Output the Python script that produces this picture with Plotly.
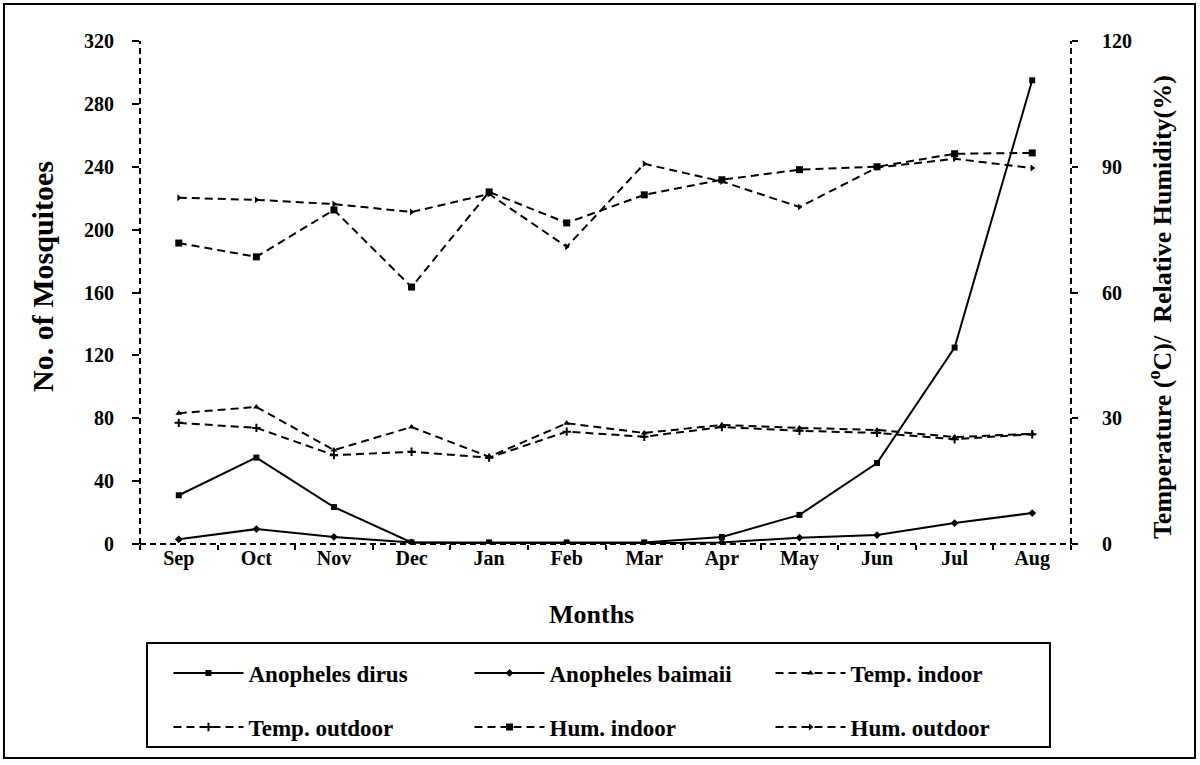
import plotly.graph_objects as go

months = ["Sep", "Oct", "Nov", "Dec", "Jan", "Feb", "Mar", "Apr", "May", "Jun", "Jul", "Aug"]

an_dirus = [31, 55, 23.5, 1, 1, 1, 1, 4.5, 18.5, 51.5, 125, 295]
an_baimaii = [3, 9.5, 4.5, 1, 0.5, 0.5, 0.5, 1, 4, 5.7, 13.3, 19.7]

temp_indoor = [31.2, 32.7, 22.4, 27.9, 20.8, 28.8, 26.5, 28.4, 27.7, 27.2, 25.5, 26.3]
temp_outdoor = [28.9, 27.7, 21.2, 22.0, 20.6, 26.8, 25.6, 27.9, 27.0, 26.5, 25.0, 26.2]
hum_indoor = [71.8, 68.5, 79.7, 61.3, 84.0, 76.6, 83.3, 86.9, 89.3, 90.0, 93.1, 93.3]
hum_outdoor = [82.6, 82.1, 81.1, 79.2, 83.5, 70.9, 90.7, 86.5, 80.4, 89.8, 91.9, 89.7]

left_ticks = [0, 40, 80, 120, 160, 200, 240, 280, 320]
right_ticks = [0, 30, 60, 90, 120]

FONT = "Liberation Serif, Times New Roman, serif"
DASH = "8px,5px"

fig = go.Figure()

fig.add_trace(go.Scatter(x=months, y=an_dirus, name="Anopheles dirus", mode="lines+markers",
                         line=dict(color="black", width=2),
                         marker=dict(symbol="square", size=6, color="black"),
                         legend="legend"))
fig.add_trace(go.Scatter(x=months, y=an_baimaii, name="Anopheles baimaii", mode="lines+markers",
                         line=dict(color="black", width=2),
                         marker=dict(symbol="diamond", size=6, color="black"),
                         legend="legend"))
fig.add_trace(go.Scatter(x=months, y=temp_indoor, name="Temp. indoor", mode="lines+markers",
                         line=dict(color="black", width=2, dash=DASH),
                         marker=dict(symbol="triangle-up", size=6, color="black"),
                         yaxis="y2", legend="legend"))
fig.add_trace(go.Scatter(x=months, y=temp_outdoor, name="Temp. outdoor", mode="lines+markers",
                         line=dict(color="black", width=2, dash=DASH),
                         marker=dict(symbol="cross-thin", size=6, color="black",
                                     line=dict(color="black", width=2)),
                         yaxis="y2", legend="legend2"))
fig.add_trace(go.Scatter(x=months, y=hum_indoor, name="Hum. indoor", mode="lines+markers",
                         line=dict(color="black", width=2, dash=DASH),
                         marker=dict(symbol="square", size=7, color="black"),
                         yaxis="y2", legend="legend2"))
fig.add_trace(go.Scatter(x=months, y=hum_outdoor, name="Hum. outdoor", mode="lines+markers",
                         line=dict(color="black", width=2, dash=DASH),
                         marker=dict(symbol="triangle-right", size=6, color="black"),
                         yaxis="y2", legend="legend2"))

tickfont = dict(family=FONT, size=20, color="black", weight="bold")
legfont = dict(family=FONT, size=23, color="black", weight="bold")

fig.update_layout(
    width=1200, height=765,
    margin=dict(l=140, r=129, t=41, b=221),
    paper_bgcolor="white", plot_bgcolor="white",
    xaxis=dict(type="category", range=[-0.5, 11.5], tickson="boundaries",
               ticks="outside", ticklen=5, tickwidth=1.5, tickcolor="black",
               showline=False, showgrid=False, zeroline=False,
               tickfont=tickfont),
    yaxis=dict(range=[0, 320], tickvals=left_ticks, ticks="outside", ticklen=7,
               tickwidth=1.5, tickcolor="black", showline=False, showgrid=False,
               zeroline=False, tickfont=tickfont, ticklabelstandoff=14),
    yaxis2=dict(range=[0, 120], tickvals=right_ticks, overlaying="y", side="right",
                ticks="outside", ticklen=6, tickwidth=1.5, tickcolor="black",
                showline=False, showgrid=False, zeroline=False, tickfont=tickfont,
                ticklabelstandoff=20),
    legend=dict(orientation="h", x=0.0306, xanchor="left", y=-0.2565, yanchor="middle",
                entrywidth=216, entrywidthmode="pixels", itemwidth=70,
                font=legfont, bgcolor="rgba(0,0,0,0)", borderwidth=0,
                traceorder="normal"),
    legend2=dict(orientation="h", x=0.0306, xanchor="left", y=-0.3638, yanchor="middle",
                 entrywidth=216, entrywidthmode="pixels", itemwidth=70,
                 font=legfont, bgcolor="rgba(0,0,0,0)", borderwidth=0,
                 traceorder="normal"),
    showlegend=True,
    annotations=[
        dict(text="Months", xref="paper", yref="paper", x=0.4845, y=-0.140,
             xanchor="center", yanchor="middle", showarrow=False,
             font=dict(family=FONT, size=26, color="black", weight="bold")),
        dict(text="No. of Mosquitoes", xref="paper", yref="paper", x=-0.1042, y=0.533,
             xanchor="center", yanchor="middle", showarrow=False, textangle=-90,
             font=dict(family=FONT, size=30, color="black", weight="bold")),
        dict(text="Temperature (<sup>o</sup>C)/  Relative Humidity(%)", xref="paper", yref="paper",
             x=1.0956, y=0.471, xanchor="center", yanchor="middle", showarrow=False,
             textangle=-90,
             font=dict(family=FONT, size=26, color="black", weight="bold")),
    ],
)

axis_line = dict(color="black", width=2, dash="6px,4px")
shapes = [
    dict(type="line", xref="x domain", yref="y domain", x0=0, x1=0, y0=0, y1=1, line=axis_line),
    dict(type="line", xref="x domain", yref="y domain", x0=1, x1=1, y0=0, y1=1, line=axis_line),
    dict(type="line", xref="x domain", yref="y domain", x0=0, x1=1, y0=0, y1=0, line=axis_line),
    # legend box
    dict(type="rect", xref="paper", yref="paper", x0=0.0075, x1=0.9774, y0=-0.4036, y1=-0.1968,
         line=dict(color="black", width=2), fillcolor="rgba(0,0,0,0)", layer="below"),
    # outer frame
    dict(type="rect", xref="paper", yref="paper", x0=-0.1461, x1=1.1332, y0=-0.4254, y1=1.0736,
         line=dict(color="black", width=2), fillcolor="rgba(0,0,0,0)", layer="below"),
]
fig.update_layout(shapes=shapes)

fig.write_html("out.html", config={"displayModeBar": False},
               post_script="document.body.style.margin='0';document.body.style.overflow='hidden';")
